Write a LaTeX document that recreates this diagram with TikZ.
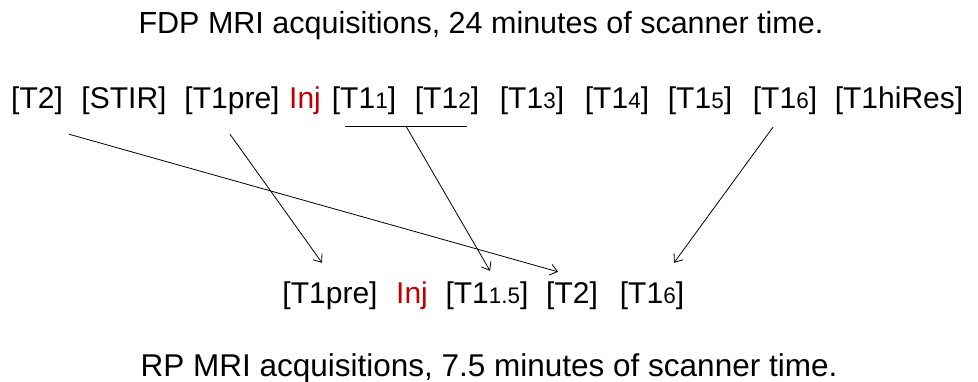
\documentclass[tikz,border=0pt]{standalone}
\usepackage{fontspec}
\setmainfont{Liberation Sans}
\usepackage{tikz}
\usetikzlibrary{arrows.meta,positioning,calc}
\usepackage{xcolor}
\definecolor{cInj}{RGB}{192,0,0}
\newcommand{\smalldig}[1]{{\fontsize{22.5}{22.5}\selectfont #1}}

\begin{document}
\begin{tikzpicture}[
    x=1pt, y=-1pt,
    seq/.style={inner sep=0pt,anchor=base,text height=22pt,text depth=6pt,font=\fontsize{30}{36}\selectfont},
    inj/.style={seq,text=cInj},
    caption/.style={inner sep=0pt,anchor=base,font=\fontsize{30.5}{36}\selectfont},
    link/.style={->,line width=0.8pt},
    >={Straight Barb[length=7pt,width=11pt]}
  ]
  \useasboundingbox (0,0) rectangle (978,381);
  \node[caption] (fdp) at (481,33) {FDP MRI acquisitions, 24 minutes of scanner time.};
  \node[caption,font=\fontsize{31.5}{36}\selectfont] (rp) at (489,376) {RP MRI acquisitions, 7.5 minutes of scanner time.};

  % FDP protocol
  \node[seq] (t2)    at (37,108)  {[T2]};
  \node[seq] (stir)  at (124,108) {[STIR]};
  \node[seq] (t1pre) at (232,108) {[T1pre]};
  \node[inj] (inj)   at (305,108) {Inj};
  \node[seq] (t11)   at (364,108) {[T1\smalldig{1}]};
  \node[seq] (t12)   at (447,108) {[T1\smalldig{2}]};
  \node[seq] (t13)   at (532,108) {[T1\smalldig{3}]};
  \node[seq] (t14)   at (617,108) {[T1\smalldig{4}]};
  \node[seq] (t15)   at (700,108) {[T1\smalldig{5}]};
  \node[seq] (t16)   at (785,108) {[T1\smalldig{6}]};
  \node[seq] (hires) at (899,108) {[T1hiRes]};

  % RP protocol
  \node[seq] (rpre)  at (330,303) {[T1pre]};
  \node[inj] (rinj)  at (412,303) {Inj};
  \node[seq] (r115)  at (487,303) {[T1\smalldig{1.5}]};
  \node[seq] (rt2)   at (572,303) {[T2]};
  \node[seq] (r16)   at (652,303) {[T1\smalldig{6}]};

  \draw[line width=0.8pt] ($(t11.south)+(-19,12)$) -- coordinate[pos=0.5] (avg) ($(t12.south)+(20,12)$);

  \draw[link] ($(t2.south)+(32,20)$) -- ($(rt2.north)+(-14,-9)$);
  \draw[link] ($(t1pre.south)+(-2,20)$) -- ($(rpre.north)+(-8,-18)$);
  \draw[link] (avg) -- ($(r115.north)+(3,-10)$);
  \draw[link] ($(t16.south)+(-12,13)$) -- ($(r16.north)+(22,-18)$);
\end{tikzpicture}
\end{document}
